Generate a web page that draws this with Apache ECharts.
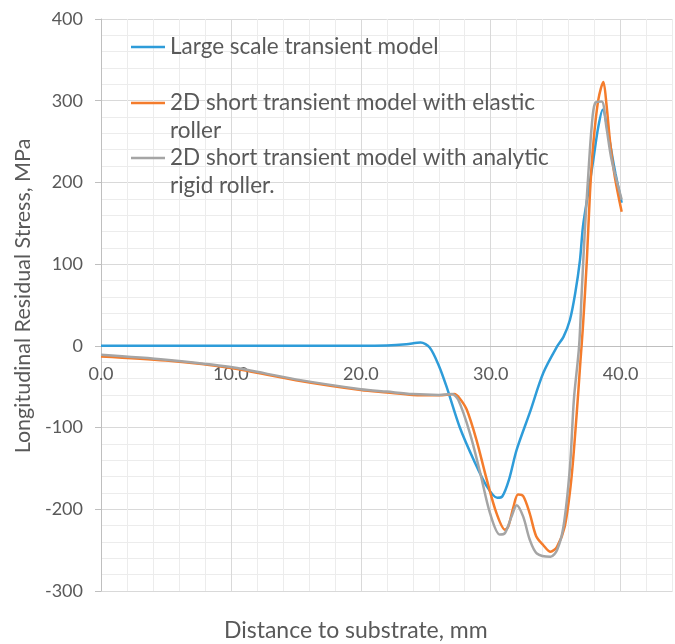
<!DOCTYPE html>
<html>
<head>
<meta charset="utf-8">
<script src="https://cdn.jsdelivr.net/npm/echarts@6/dist/echarts.min.js"></script>
<style>html,body{margin:0;padding:0;background:#fff}#c{width:675px;height:644px}</style>
</head>
<body>
<div id="c"></div>
<script>
const seriesNames = [
  'Large scale transient model',
  '2D short transient model with elastic roller',
  '2D short transient model with analytic rigid roller.'
];
const legendLabels = [
  'Large scale transient model',
  '\n2D short transient model with elastic\nroller',
  '\n2D short transient model with analytic\nrigid roller.'
];
const xTicks = [0, 10, 20, 30, 40];
const yTicks = [-300, -200, -100, 0, 100, 200, 300, 400];

const largeScale = [[0,0],[5,0],[10,0],[15,0],[20,0],[22,0.5],[23.5,2],[24.6,4],[25.3,-2],[26.0,-24],[26.6,-50],[27.6,-99],[28.7,-140],[29.7,-172],[30.5,-186],[30.9,-184],[31.4,-164],[32.0,-127],[33.0,-82],[34.05,-33],[35.1,-1],[35.6,11],[36.1,32],[36.5,64],[36.87,105],[37.1,146],[37.5,187],[37.9,228],[38.28,268],[38.62,289],[39.05,260],[39.4,228],[39.6,211],[40.08,175]];
const elasticRoller = [[0,-13],[5,-18],[10,-27],[15,-42],[20,-54],[22,-57],[24,-60],[26,-60.5],[27.2,-59],[27.6,-64],[28.15,-78],[28.9,-115],[29.7,-164],[30.45,-205],[31.1,-225],[31.35,-221],[31.75,-197],[32.1,-182],[32.5,-184],[33.0,-205],[33.5,-233],[34.05,-244],[34.6,-252],[35.1,-246],[35.7,-221],[36.2,-164],[36.6,-87],[36.9,-20],[37.1,24],[37.4,105],[37.64,187],[37.9,248],[38.28,301],[38.67,323],[38.9,297],[39.2,248],[39.55,207],[40.08,164]];
const rigidRoller = [[0,-11],[5,-17],[10,-26],[15,-41],[20,-53],[22,-56],[24,-59],[26,-60],[27.0,-59],[27.5,-66],[28.4,-107],[29.2,-156],[29.95,-205],[30.7,-231],[31.1,-229],[31.6,-209],[32.0,-195],[32.5,-209],[33.0,-237],[33.55,-254],[34.6,-258],[35.1,-250],[35.6,-221],[36.1,-148],[36.4,-66],[36.8,-1],[37.0,64],[37.26,146],[37.5,207],[37.77,268],[38.03,297],[38.54,299],[38.9,268],[39.3,228],[40.08,179]];

const colors = ['#2e9cd9', '#f47c2c', '#a5a5a5'];
const FONT = 'Lato';
const TXT = '#595959';

const chart = echarts.init(document.getElementById('c'), null, {renderer: 'canvas'});

function legendFor(i, top) {
  return {
    show: true,
    left: 131,
    top: top,
    padding: 0,
    itemWidth: 34,
    itemHeight: 14,
    icon: 'path://M0,6L34,6L34,8.5L0,8.5Z',
    data: [seriesNames[i]],
    formatter: function () { return legendLabels[i]; },
    selectedMode: false,
    textStyle: {fontFamily: FONT, fontSize: 22.5, color: TXT, lineHeight: 28}
  };
}

chart.setOption({
  animation: false,
  color: colors,
  grid: {left: 101, top: 19, width: 571.6, height: 572, containLabel: false, outerBoundsMode: 'none'},
  legend: [legendFor(0, 33), legendFor(1, 61), legendFor(2, 116)],
  xAxis: {
    type: 'value', min: 0, max: 44, interval: 2,
    position: 'bottom', offset: -245.1,
    name: 'Distance to substrate, mm', nameLocation: 'middle', nameGap: 273,
    nameTextStyle: {fontFamily: FONT, fontSize: 23, color: TXT, padding: [0, 62, 0, 0]},
    axisLine: {show: true, onZero: false, lineStyle: {color: '#bfbfbf', width: 1}},
    axisTick: {show: false},
    axisLabel: {
      fontFamily: FONT, fontSize: 18, color: TXT, margin: 19,
      formatter: function (v) { return xTicks.indexOf(v) >= 0 ? v.toFixed(1) : ''; }
    },
    splitLine: {show: true, lineStyle: {color: ['#d9d9d9', '#ececec', '#ececec', '#ececec', '#ececec'], width: 1}}
  },
  yAxis: {
    type: 'value', min: -300, max: 400, interval: 100,
    name: 'Longitudinal Residual Stress, MPa', nameLocation: 'middle', nameGap: 63,
    nameTextStyle: {fontFamily: FONT, fontSize: 21.5, color: TXT, padding: [0, 0, 0, 18]},
    axisLine: {show: true, onZero: false, lineStyle: {color: '#bfbfbf', width: 1}},
    axisTick: {show: true, inside: false, length: 6, lineStyle: {color: '#bfbfbf'}},
    axisLabel: {
      fontFamily: FONT, fontSize: 18, color: TXT, margin: 18,
      formatter: function (v) { return yTicks.indexOf(v) >= 0 ? String(v) : ''; }
    },
    splitLine: {show: true, lineStyle: {color: '#d9d9d9', width: 1}},
    minorTick: {show: false, splitNumber: 5},
    minorSplitLine: {show: true, lineStyle: {color: '#ececec', width: 1}}
  },
  series: [
    {name: seriesNames[0], type: 'line', data: largeScale, smooth: 0.3, showSymbol: false, symbol: 'none', lineStyle: {width: 2.5, color: colors[0]}, z: 3},
    {name: seriesNames[1], type: 'line', data: elasticRoller, smooth: 0.3, showSymbol: false, symbol: 'none', lineStyle: {width: 2.5, color: colors[1]}, z: 4},
    {name: seriesNames[2], type: 'line', data: rigidRoller, smooth: 0.3, showSymbol: false, symbol: 'none', lineStyle: {width: 2.5, color: colors[2]}, z: 5}
  ]
});
</script>
</body>
</html>
